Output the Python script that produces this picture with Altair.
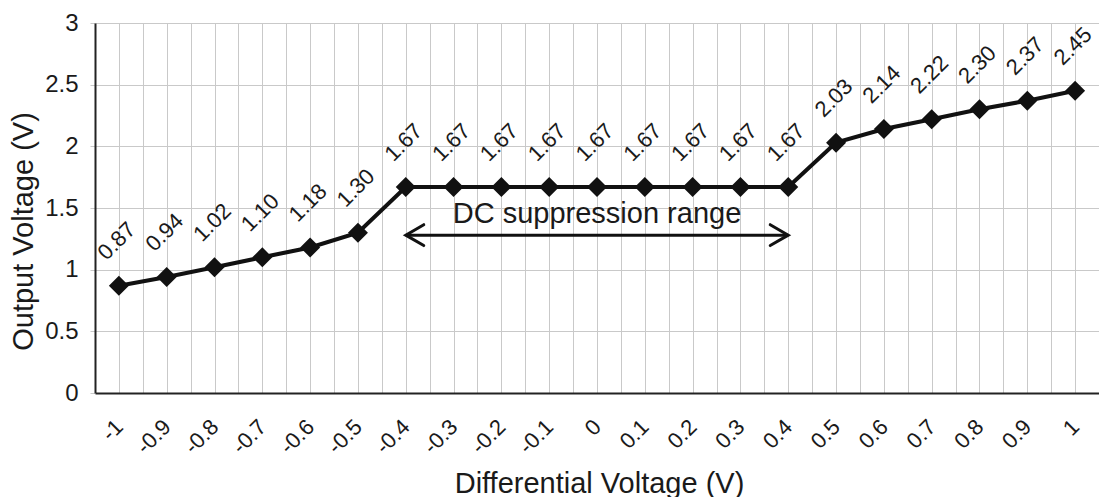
import altair as alt
import pandas as pd

FONT = "Liberation Sans"
INK = "#111111"
TEXT = "#1a1a1a"
GRID = "#c9c9c9"

# Transfer curve: differential input voltage vs. output voltage
diff_voltage = [-1.0, -0.9, -0.8, -0.7, -0.6, -0.5, -0.4, -0.3, -0.2, -0.1, 0.0,
                0.1, 0.2, 0.3, 0.4, 0.5, 0.6, 0.7, 0.8, 0.9, 1.0]
output_voltage = [0.87, 0.94, 1.02, 1.10, 1.18, 1.30, 1.67, 1.67, 1.67, 1.67, 1.67,
                  1.67, 1.67, 1.67, 1.67, 2.03, 2.14, 2.22, 2.30, 2.37, 2.45]

# Axis labels
x_tick_labels = ["-1", "-0.9", "-0.8", "-0.7", "-0.6", "-0.5", "-0.4", "-0.3", "-0.2", "-0.1", "0",
                 "0.1", "0.2", "0.3", "0.4", "0.5", "0.6", "0.7", "0.8", "0.9", "1"]
y_ticks = [0, 0.5, 1, 1.5, 2, 2.5, 3]

# Vertical grid: one line on each category and one halfway between
x_grid = [round(-1.05 + 0.05 * i, 2) for i in range(43)]

# DC suppression range annotation
suppression_range = [-0.4, 0.4]
arrow_level = 1.28
annotation_text = "DC suppression range"
annotation_pos = (0.0, 1.38)

df = pd.DataFrame({"x": diff_voltage, "y": output_voltage})
df["label"] = [f"{v:.2f}" for v in output_voltage]

labels_js = "[" + ",".join(f"'{s}'" for s in x_tick_labels) + "]"
label_expr = (
    "abs(datum.value*10 - round(datum.value*10)) < 0.01 ? "
    f"{labels_js}[round(datum.value*10)+10] : ''"
)

x_axis = alt.Axis(
    values=x_grid, labelExpr=label_expr, title="Differential Voltage (V)",
    grid=True, gridColor=GRID, gridWidth=1, ticks=False,
    labelAngle=315, labelAlign="right", labelBaseline="middle", labelPadding=30,
    labelFontSize=22, labelFont=FONT, labelColor=TEXT, labelOverlap=False,
    labelFlush=False, labelBound=False,
    domainColor="#222222", domainWidth=2,
    titleFont=FONT, titleFontSize=29, titleFontWeight="normal", titleColor=TEXT,
    titleX=504, titleY=99, titleAlign="center", titleBaseline="alphabetic",
)
y_axis = alt.Axis(
    values=y_ticks, format="~g", title="Output Voltage (V)",
    grid=True, gridColor=GRID, gridWidth=1,
    ticks=True, tickSize=5, tickColor=GRID,
    labelFontSize=24, labelFont=FONT, labelColor=TEXT, labelPadding=12,
    domainColor="#222222", domainWidth=2,
    titleFont=FONT, titleFontSize=29, titleFontWeight="normal", titleColor=TEXT,
    titleAngle=270, titleX=-72, titleY=208, titleAlign="center", titleBaseline="middle",
)

X = alt.X("x:Q", scale=alt.Scale(domain=[-1.05, 1.05], nice=False, zero=False), axis=x_axis)
Y = alt.Y("y:Q", scale=alt.Scale(domain=[0, 3], nice=False, zero=True), axis=y_axis)

base = alt.Chart(df)

line = base.mark_line(color=INK, strokeWidth=4).encode(x=X, y=Y)
points = base.mark_point(shape="diamond", filled=True, size=400, color=INK, opacity=1).encode(x=X, y=Y)
value_labels = base.mark_text(
    angle=315, align="center", baseline="middle", dx=30, dy=-33,
    font=FONT, fontSize=22, color=TEXT,
).encode(x=X, y=Y, text="label:N")

arrow_df = pd.DataFrame({"x": [suppression_range[0]], "x2": [suppression_range[1]], "y": [arrow_level]})
arrow_line = alt.Chart(arrow_df).mark_rule(color=INK, strokeWidth=3).encode(x=X, x2="x2:Q", y=Y)

heads_df = pd.DataFrame({
    "x": suppression_range,
    "y": [arrow_level, arrow_level],
    "shape": ["M 1 -0.58 L 0 0 L 1 0.58", "M -1 -0.58 L 0 0 L -1 0.58"],
})
arrow_heads = alt.Chart(heads_df).mark_point(
    filled=False, size=1296, stroke=INK, strokeWidth=3, opacity=1, strokeCap="round"
).encode(x=X, y=Y, shape=alt.Shape("shape:N", scale=None))

note_df = pd.DataFrame({"x": [annotation_pos[0]], "y": [annotation_pos[1]], "t": [annotation_text]})
note = alt.Chart(note_df).mark_text(
    align="center", baseline="alphabetic", font=FONT, fontSize=29, color=TEXT
).encode(x=X, y=Y, text="t:N")

chart = alt.layer(line, points, value_labels, arrow_line, arrow_heads, note).properties(
    width=1004, height=370,
    padding={"left": 95, "top": 23, "right": 0, "bottom": 104},
    autosize=alt.AutoSizeParams(type="none"),
    background="white",
).configure_view(strokeWidth=0)

chart.save("out.html", embed_options={"renderer": "svg", "actions": False})
